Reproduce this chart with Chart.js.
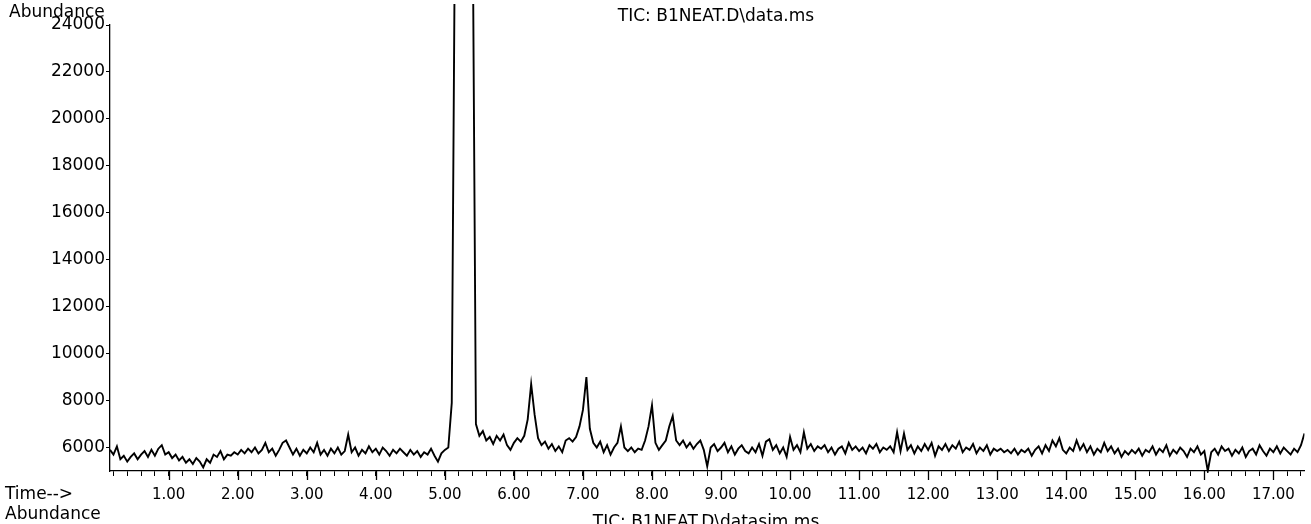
<!DOCTYPE html>
<html>
<head>
<meta charset="utf-8">
<script src="https://cdn.jsdelivr.net/npm/chart.js@4"></script>
<style>
  body { margin: 0; background: #fff; }
  canvas { display: block; }
</style>
</head>
<body>
<canvas id="tic" width="1311" height="524"></canvas>
<script>
// scan grid (minutes)
const startTime = 0.15;
const timeStep = 0.05;

// abundance, one row per minute
const abundance = [
  5900, 5700, 6050, 5500, 5650, 5400, 5600, 5750, 5500, 5700, 5850, 5600, 5900, 5650, 5950, 6100, 5700,
  5800, 5550, 5700, 5450, 5600, 5350, 5500, 5300, 5550, 5400, 5150, 5500, 5350, 5700, 5600, 5850, 5500, 5700, 5650, 5800,
  5700, 5900, 5750, 5950, 5800, 6000, 5750, 5900, 6200, 5800, 5950, 5650, 5900, 6200, 6300, 6000, 5700, 5950, 5650, 5900,
  5750, 6000, 5800, 6200, 5700, 5900, 5650, 5950, 5750, 6000, 5700, 5850, 6550, 5800, 6000, 5650, 5900, 5750, 6050, 5800,
  5950, 5700, 6000, 5850, 5650, 5900, 5750, 5950, 5800, 5650, 5900, 5700, 5850, 5600, 5800, 5700, 5950, 5650, 5400, 5750,
  5900, 6000, 7900, 30000, 30000, 30000, 30000, 30000, 30000, 7000, 6500, 6700, 6300, 6450, 6150, 6500, 6300, 6550, 6100, 5900,
  6200, 6400, 6250, 6500, 7200, 8700, 7400, 6400, 6100, 6250, 5950, 6150, 5850, 6050, 5800, 6300, 6400, 6250, 6450, 6900,
  7600, 9000, 6800, 6200, 6000, 6250, 5800, 6100, 5700, 6000, 6200, 6900, 6000, 5850, 6000, 5800, 5950, 5900, 6300, 6900,
  7800, 6200, 5900, 6100, 6300, 6900, 7350, 6300, 6100, 6300, 6000, 6200, 5950, 6150, 6300, 5900, 5200, 6000, 6150, 5850,
  6000, 6200, 5800, 6050, 5700, 5950, 6100, 5850, 5750, 6000, 5800, 6150, 5650, 6250, 6350, 5900, 6100, 5750, 6000, 5600,
  6450, 5900, 6100, 5800, 6650, 5950, 6150, 5850, 6050, 5950, 6100, 5800, 6000, 5700, 5950, 6050, 5750, 6200, 5900, 6050,
  5850, 6000, 5750, 6100, 5950, 6150, 5800, 6000, 5900, 6050, 5800, 6650, 5850, 6600, 5900, 6100, 5750, 6050, 5850, 6150,
  5900, 6200, 5650, 6050, 5900, 6150, 5850, 6100, 5950, 6250, 5800, 6000, 5900, 6150, 5750, 6000, 5850, 6100, 5700, 5950,
  5850, 5950, 5800, 5900, 5750, 5950, 5700, 5900, 5800, 5950, 5650, 5900, 6050, 5750, 6100, 5850, 6300, 6050, 6400, 5900,
  5750, 6000, 5850, 6300, 5900, 6150, 5800, 6050, 5700, 5950, 5800, 6200, 5850, 6050, 5750, 5950, 5600, 5850, 5700, 5900,
  5750, 5950, 5650, 5900, 5800, 6050, 5700, 5950, 5800, 6100, 5650, 5900, 5750, 6000, 5850, 5600, 5950, 5800, 6050, 5700,
  5850, 5000, 5800, 5950, 5700, 6050, 5850, 5950, 5650, 5900, 5750, 6000, 5600, 5850, 5950, 5700, 6100, 5850, 5650, 5950,
  5800, 6050, 5750, 6000, 5850, 5700, 5950, 5800, 6100, 6600
];

const yTickValues = [6000, 8000, 10000, 12000, 14000, 16000, 18000, 20000, 22000, 24000];
const xLabelValues = [1, 2, 3, 4, 5, 6, 7, 8, 9, 10, 11, 12, 13, 14, 15, 16, 17];

const points = abundance.map((v, i) => ({ x: startTime + i * timeStep, y: v }));
const font = "'DejaVu Sans', sans-serif";

const labelsPlugin = {
  id: 'labels',
  afterDraw(chart) {
    const ctx = chart.ctx;
    const x = chart.scales.x;
    ctx.save();
    // longer marks under the labelled minutes
    ctx.strokeStyle = '#000';
    ctx.lineWidth = 1.3;
    ctx.beginPath();
    xLabelValues.forEach(v => {
      const px = Math.round(x.getPixelForValue(v)) + 0.5;
      ctx.moveTo(px, x.top);
      ctx.lineTo(px, x.top + 9);
    });
    ctx.stroke();

    ctx.fillStyle = '#000';
    ctx.font = '17px ' + font;
    ctx.textAlign = 'left';
    ctx.textBaseline = 'alphabetic';
    ctx.fillText('Abundance', 9, 17);
    ctx.fillText('Time-->', 5, 499);
    ctx.fillText('Abundance', 5, 519);
    ctx.textAlign = 'center';
    ctx.fillText('TIC: B1NEAT.D\\data.ms', 716, 21);
    ctx.fillText('TIC: B1NEAT.D\\datasim.ms', 706, 527);
    ctx.restore();
  }
};

new Chart(document.getElementById('tic'), {
  type: 'line',
  data: {
    datasets: [{
      data: points,
      borderColor: '#000',
      borderWidth: 1.9,
      pointRadius: 0,
      tension: 0,
      clip: { left: 0, top: 21, right: 0, bottom: 2 }
    }]
  },
  options: {
    responsive: false,
    animation: false,
    parsing: false,
    layout: { autoPadding: false, padding: { top: 25, right: 3, left: 0, bottom: 0 } },
    plugins: { legend: { display: false }, tooltip: { enabled: false } },
    scales: {
      x: {
        type: 'linear',
        min: 0.15,
        max: 17.45,
        afterFit: s => { s.height = 53; },
        afterBuildTicks: s => {
          const t = [];
          for (let i = 1; i <= 87; i++) t.push({ value: i / 5 });
          s.ticks = t;
        },
        ticks: {
          autoSkip: false,
          maxRotation: 0,
          color: '#000',
          padding: 10,
          font: { family: font, size: 15 },
          callback: v => Math.abs(v - Math.round(v)) < 1e-9 ? v.toFixed(2) : ''
        },
        grid: { drawOnChartArea: false, color: '#000', tickLength: 5 },
        border: { color: '#000', width: 1.3 }
      },
      y: {
        min: 5000,
        max: 24000,
        afterFit: s => { s.width = 110; },
        afterBuildTicks: s => { s.ticks = yTickValues.map(v => ({ value: v })); },
        ticks: {
          color: '#000',
          padding: 1,
          font: { family: font, size: 17 },
          callback: v => String(v)
        },
        grid: { drawOnChartArea: false, color: '#000', tickLength: 4 },
        border: { color: '#000', width: 1.3 }
      }
    }
  },
  plugins: [labelsPlugin]
});
</script>
</body>
</html>
